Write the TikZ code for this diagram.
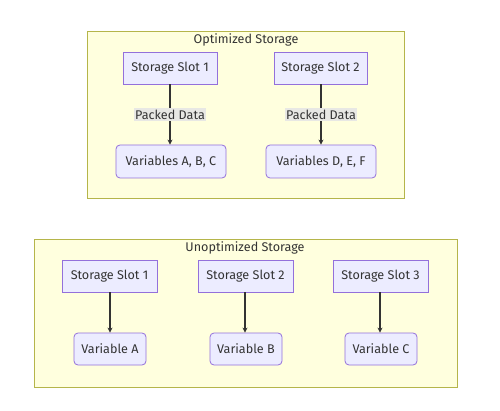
\documentclass[tikz,border=0pt]{standalone}
\usepackage{fontspec}
\setmainfont{Fira Sans}
\usetikzlibrary{arrows.meta}
\definecolor{nodefill}{HTML}{ECECFF}
\definecolor{nodestroke}{HTML}{9370DB}
\definecolor{clusterfill}{HTML}{FFFFDE}
\definecolor{clusterstroke}{HTML}{B5B54A}
\definecolor{edgecol}{HTML}{333333}
\definecolor{labelfill}{HTML}{E8E8E4}
\begin{document}
\begin{tikzpicture}[x=1pt,y=-1pt,
  every node/.style={font=\fontsize{12.6}{14}\selectfont, text=edgecol},
  slotbox/.style={draw=nodestroke, fill=nodefill, line width=0.8pt, minimum height=32pt, inner sep=0pt},
  varbox/.style={draw=nodestroke, fill=nodefill, line width=0.8pt, minimum height=33pt, rounded corners=4pt, inner sep=0pt},
  cluster/.style={draw=clusterstroke, fill=clusterfill, line width=0.8pt},
  conn/.style={draw=edgecol, line width=1.2pt, -{Stealth[length=5pt,width=5pt]}},
  elabel/.style={fill=labelfill, inner sep=1.5pt}
]
\useasboundingbox (0,0) rectangle (500,411);
% clusters
\path[cluster] (87,31) rectangle (404,198);
\path[cluster] (34,239) rectangle (457,387);
\node (t1) at (246,40) {Optimized Storage};
\node (t2) at (245,248) {Unoptimized Storage};
% top nodes
\node[slotbox, minimum width=94pt] (s1) at (170,68) {Storage Slot 1};
\node[slotbox, minimum width=93pt] (s2) at (320.5,68) {Storage Slot 2};
\node[varbox, minimum width=110pt] (v1) at (171,161.5) {Variables A, B, C};
\node[varbox, minimum width=110pt] (v2) at (321,161.5) {Variables D, E, F};
\draw[conn] (s1.south -| 170,0) -- (v1.north -| 170,0) node[midway, elabel] (l1) {Packed Data};
\draw[conn] (s2.south -| 321,0) -- (v2.north -| 321,0) node[midway, elabel] (l2) {Packed Data};
% bottom nodes
\node[slotbox, minimum width=95pt] (u1) at (109.5,276) {Storage Slot 1};
\node[slotbox, minimum width=95pt] (u2) at (245.5,276) {Storage Slot 2};
\node[slotbox, minimum width=95pt] (u3) at (380.5,276) {Storage Slot 3};
\node[varbox, minimum width=72pt, minimum height=32pt] (a) at (110,349) {Variable A};
\node[varbox, minimum width=72pt, minimum height=32pt] (b) at (246,349) {Variable B};
\node[varbox, minimum width=72pt, minimum height=32pt] (c) at (381,349) {Variable C};
\draw[conn] (u1.south -| 110,0) -- (a.north -| 110,0);
\draw[conn] (u2.south -| 245,0) -- (b.north -| 245,0);
\draw[conn] (u3.south -| 380,0) -- (c.north -| 380,0);
\end{tikzpicture}
\end{document}
